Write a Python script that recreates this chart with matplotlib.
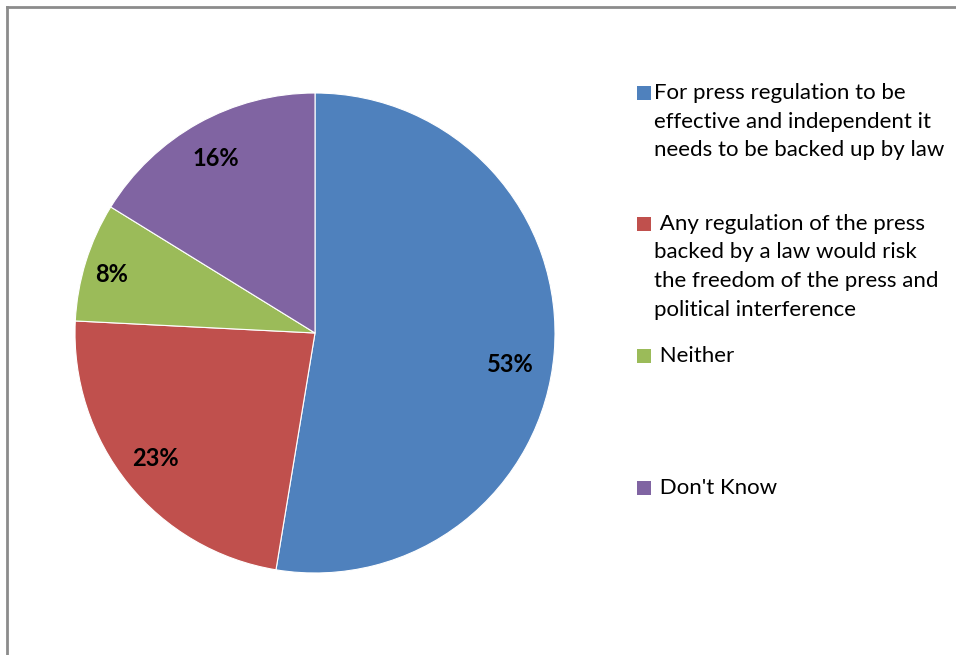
import matplotlib
matplotlib.use("Agg")
import matplotlib.pyplot as plt
from matplotlib.patches import Rectangle
from matplotlib.lines import Line2D

labels = [
    "For press regulation to be\neffective and independent it\nneeds to be backed up by law",
    " Any regulation of the press\nbacked by a law would risk\nthe freedom of the press and\npolitical interference",
    " Neither",
    " Don't Know",
]
values = [52.6, 23.2, 8.0, 16.2]
colors = ["#4F81BD", "#C0504D", "#9BBB59", "#8064A2"]

W, H = 956, 655
fig = plt.figure(figsize=(W / 100, H / 100), dpi=100)
fig.patch.set_facecolor("white")
fig.patch.set_edgecolor("none")
fig.patch.set_linewidth(0)
FONT = ["Lato", "DejaVu Sans"]

# outer border (only left/top visible)
bx, by = 6.5 / W, 1 - 6.5 / H
fig.lines.append(Line2D([bx, bx], [0, by], transform=fig.transFigure,
                        color="#8c8c8c", linewidth=2))
fig.lines.append(Line2D([bx, 1], [by, by], transform=fig.transFigure,
                        color="#8c8c8c", linewidth=2))

cx, cy, r = 315, 333, 240
ax = fig.add_axes([(cx - r) / W, (H - cy - r) / H, 2 * r / W, 2 * r / H])
wedges, _ = ax.pie(values, colors=colors, startangle=90, counterclock=False,
                   wedgeprops=dict(edgecolor="white", linewidth=0.8))
ax.set_aspect("equal")
ax.set_xlim(-1, 1)
ax.set_ylim(-1, 1)
ax.axis("off")

# data labels
label_pos = [(510, 365), (155, 458), (112, 275), (216, 158)]
for v, (px, py) in zip(values, label_pos):
    fig.text(px / W, 1 - py / H, f"{round(v)}%", ha="center", va="center",
             fontsize=17, fontweight="bold", family=FONT, color="black")

# legend
sq_y = [93, 224, 356, 488]
sq = 14
line_h = 28.5
for lab, col, y in zip(labels, colors, sq_y):
    fig.patches.append(Rectangle((637 / W, 1 - (y + sq / 2) / H), sq / W, sq / H,
                                 transform=fig.transFigure, facecolor=col,
                                 edgecolor="none"))
    for i, line in enumerate(lab.split("\n")):
        fig.text(654 / W, 1 - (y + i * line_h) / H, line, ha="left",
                 va="center", fontsize=16, family=FONT, color="black")

fig.savefig("out.png", dpi=100, facecolor="white", edgecolor="none")
